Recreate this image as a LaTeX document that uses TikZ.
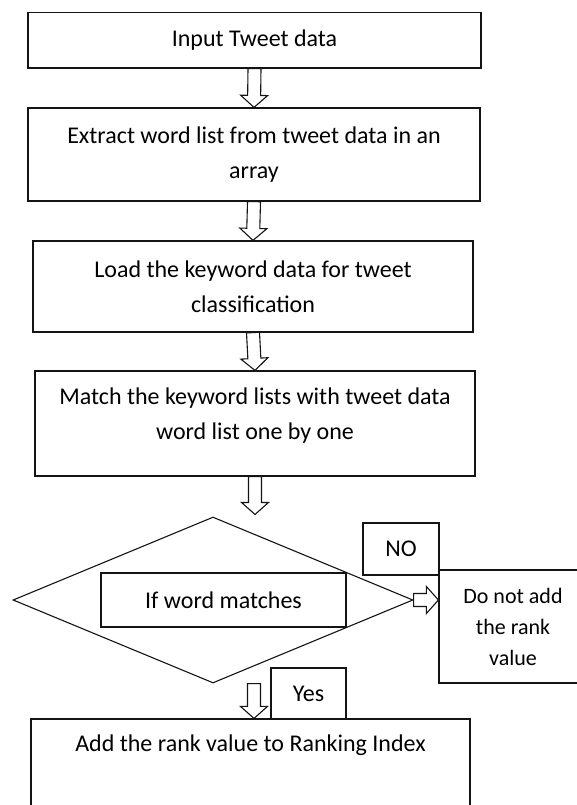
\documentclass[tikz,border=0pt]{standalone}
\usepackage{fontspec}
\setmainfont{Carlito}
\usepackage{xcolor}
\usetikzlibrary{calc,positioning,shapes.geometric}
\definecolor{flowline}{RGB}{20,20,20}

% hollow block arrow from #1 to #2
\newcommand{\hollowarrow}[2]{%
    \coordinate (hb) at ($(#2)!12pt!(#1)$);
    \draw[blockarrow] ($(#1)!6.5pt!90:(#2)$) -- ($(hb)!6.5pt!-90:(#1)$)
        -- ($(hb)!13.5pt!-90:(#1)$) -- (#2) -- ($(hb)!13.5pt!90:(#1)$)
        -- ($(hb)!6.5pt!90:(#1)$) -- ($(#1)!6.5pt!-90:(#2)$) -- cycle;
}

\begin{document}
\begin{tikzpicture}[x=1pt,y=-1pt,
    flowtext/.style={inner sep=0pt, align=center, font=\fontsize{24}{35}\selectfont},
    stepbox/.style={flowtext, draw=flowline, line width=1.2pt},
    blockarrow/.style={draw=flowline, fill=white, line width=1.1pt, line join=miter}]

    \useasboundingbox (0,0) rectangle (577,805);

    % =========================
    % main column of steps
    % =========================
    \node[stepbox, minimum width=453pt, minimum height=55.5pt] (input) at (254.5,40.25)
        {Input Tweet data};
    \node[stepbox, minimum width=452pt, minimum height=93pt] (extract) at (254,154.5)
        {Extract word list from tweet data in an\\array};
    \node[stepbox, minimum width=440pt, minimum height=91pt] (keyword) at (253,286.5)
        {Load the keyword data for tweet\\classification};
    \node[stepbox, minimum width=440pt, minimum height=105pt] (match) at (255,423.5) {};
    \node[flowtext] (matchtext) at ($(match.center)+(0,-7.5)$)
        {Match the keyword lists with tweet data\\word list one by one};

    % arrows between steps
    \hollowarrow{input.south}{extract.north}
    \hollowarrow{extract.south}{keyword.north}
    \hollowarrow{keyword.south}{match.north}

    % =========================
    % decision
    % =========================
    \node[draw=flowline, line width=1.1pt, diamond, inner sep=0pt,
        minimum width=400pt, minimum height=166pt] (decide) at (213,600) {};
    \node[stepbox, minimum width=245pt, minimum height=54pt] (test) at (223.5,600)
        {If word matches};
    \coordinate (dtop) at ($(match.south |- decide.north)+(0,-2)$);
    \hollowarrow{match.south}{dtop}

    % NO branch
    \node[stepbox, minimum width=76pt, minimum height=52pt] (no) at (401,549) {NO};
    \node[stepbox, minimum width=148pt, minimum height=113pt,
        font=\fontsize{22}{31}\selectfont] (notadd) at (513,626.5)
        {Do not add\\the rank\\value};
    \coordinate (nohead) at (notadd.west |- decide.east);
    \hollowarrow{decide.east}{nohead}

    % Yes branch
    \node[stepbox, minimum width=439pt, minimum height=120pt] (rank) at (250.5,779) {};
    \node[flowtext] (ranktext) at ($(rank.north)+(0,27)$)
        {Add the rank value to Ranking Index};
    \node[stepbox, minimum width=75pt, minimum height=51pt] (yes) at (308.5,693.5) {Yes};
    \coordinate (ytail) at ($(rank.north |- decide.south)+(3.5,0)$);
    \coordinate (yhead) at ($(rank.north)+(3.5,0)$);
    \hollowarrow{ytail}{yhead}

\end{tikzpicture}
\end{document}
